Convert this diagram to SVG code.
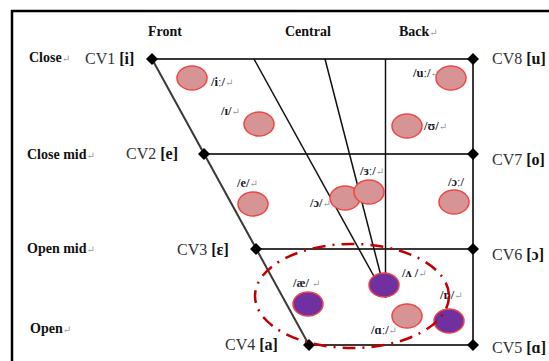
<svg xmlns="http://www.w3.org/2000/svg" width="549" height="361" viewBox="0 0 549 361">
<style>
.frame{stroke:#000;stroke-width:2.5;fill:none}
.grid{stroke:#3d3737;stroke-width:2;fill:none}
.cline{stroke:#111;stroke-width:1.5;fill:none}
.dia{fill:#000}
.pink{fill:#d69494;stroke:#f04545;stroke-width:1.5}
.purp{fill:#7030a0;stroke:#f04545;stroke-width:1.5}
.hdr{font-family:"Liberation Serif","DejaVu Serif",serif;font-weight:bold;font-size:14px;fill:#111}
.lvl{font-family:"Liberation Serif","DejaVu Serif",serif;font-weight:bold;font-size:14px;fill:#111}
.cv{font-family:"Liberation Serif","DejaVu Serif",serif;font-size:16px;fill:#333}
.cv tspan.b{font-weight:bold;fill:#111}
.ipa{font-family:"Liberation Serif","DejaVu Serif",serif;font-weight:bold;font-size:12.5px;fill:#1a1a2a}
.pm{font-weight:normal;fill:#999;font-size:10px}
.zone{fill:none;stroke:#c00000;stroke-width:2.5;stroke-dasharray:13 7 2 7}
</style>

<g id="frame">
<path class="frame" d="M12 361 V11 H549"/>
</g>

<g id="headers">
<text class="hdr" x="148" y="36">Front</text>
<text class="hdr" x="285" y="36">Central</text>
<text class="hdr" x="399" y="36">Back<tspan class="pm">↵</tspan></text>
</g>

<g id="levels">
<text class="lvl" x="29" y="62">Close<tspan class="pm">↵</tspan></text>
<text class="lvl" x="27" y="159">Close mid<tspan class="pm">↵</tspan></text>
<text class="lvl" x="27" y="253">Open mid<tspan class="pm">↵</tspan></text>
<text class="lvl" x="30" y="333">Open<tspan class="pm">↵</tspan></text>
</g>

<g id="connectors">
<path class="grid" d="M152 59 L309 345"/>
<path class="grid" d="M152 59 H473 V345 H309"/>
<path class="grid" d="M204 154 H473"/>
<path class="grid" d="M256 249 H473"/>
<path class="cline" d="M254 59 L376 280"/>
<path class="cline" d="M325 59 L382 280"/>
<path class="cline" d="M385.5 59 V298"/>
</g>

<g id="CV1"><polygon class="dia" points="152,53 158,59 152,65 146,59"/><text class="cv" x="85" y="64">CV1 <tspan class="b">[i]</tspan></text></g>
<g id="CV2"><polygon class="dia" points="204,148 210,154 204,160 198,154"/><text class="cv" x="126" y="159">CV2 <tspan class="b">[e]</tspan></text></g>
<g id="CV3"><polygon class="dia" points="256,243 262,249 256,255 250,249"/><text class="cv" x="177" y="255">CV3 <tspan class="b">[ɛ]</tspan></text></g>
<g id="CV4"><polygon class="dia" points="309,339 315,345 309,351 303,345"/><text class="cv" x="225" y="350">CV4 <tspan class="b">[a]</tspan></text></g>
<g id="CV5"><polygon class="dia" points="473,339 479,345 473,351 467,345"/><text class="cv" x="492" y="353">CV5 <tspan class="b">[ɑ]</tspan></text></g>
<g id="CV6"><polygon class="dia" points="473,243 479,249 473,255 467,249"/><text class="cv" x="492" y="260">CV6 <tspan class="b">[ɔ]</tspan></text></g>
<g id="CV7"><polygon class="dia" points="473,148 479,154 473,160 467,154"/><text class="cv" x="492" y="165">CV7 <tspan class="b">[o]</tspan></text></g>
<g id="CV8"><polygon class="dia" points="473,53 479,59 473,65 467,59"/><text class="cv" x="492" y="64">CV8 <tspan class="b">[u]</tspan></text></g>

<g id="v-i"><ellipse class="pink" cx="192" cy="78" rx="15" ry="12"/><text class="ipa" x="211" y="86">/iː/<tspan class="pm">↵</tspan></text></g>
<g id="v-ɪ"><ellipse class="pink" cx="259" cy="124" rx="15" ry="12"/><text class="ipa" x="221" y="115">/ɪ/<tspan class="pm">↵</tspan></text></g>
<g id="v-u"><ellipse class="pink" cx="451" cy="78" rx="15" ry="12"/><text class="ipa" x="413" y="77">/uː/<tspan class="pm">↵</tspan></text></g>
<g id="v-ʊ"><ellipse class="pink" cx="407" cy="126" rx="15" ry="12"/><text class="ipa" x="424" y="130">/ʊ/<tspan class="pm">↵</tspan></text></g>
<g id="v-e"><ellipse class="pink" cx="253" cy="204" rx="15" ry="12"/><text class="ipa" x="237" y="187">/e/<tspan class="pm">↵</tspan></text></g>
<g id="v-ɔ"><ellipse class="pink" cx="345" cy="198" rx="15" ry="12"/><text class="ipa" x="310" y="207">/ɔ/<tspan class="pm">↵</tspan></text></g>
<g id="v-ɜ"><ellipse class="pink" cx="369" cy="192" rx="15" ry="12"/><text class="ipa" x="360" y="175">/ɜː/<tspan class="pm">↵</tspan></text></g>
<g id="v-ɔː"><ellipse class="pink" cx="454" cy="202" rx="15" ry="12"/><text class="ipa" x="448" y="186">/ɔː/</text></g>
<g id="v-ʌ"><ellipse class="purp" cx="384" cy="285" rx="15" ry="12"/><text class="ipa" x="402" y="277">/ʌ /<tspan class="pm">↵</tspan></text></g>
<g id="v-æ"><ellipse class="purp" cx="308" cy="304" rx="15" ry="12"/><text class="ipa" x="293" y="287">/æ/ <tspan class="pm">↵</tspan></text></g>
<g id="v-ɑ"><ellipse class="pink" cx="407" cy="316" rx="15" ry="12"/><text class="ipa" x="371" y="334">/ɑː/<tspan class="pm">↵</tspan></text></g>
<g id="v-ɒ"><ellipse class="purp" cx="449" cy="321" rx="15" ry="12"/><text class="ipa" x="440" y="299">/ɒ/<tspan class="pm">↵</tspan></text></g>

<g id="open-zone">
<ellipse class="zone" cx="352" cy="296" rx="97" ry="52"/>
</g>
</svg>
